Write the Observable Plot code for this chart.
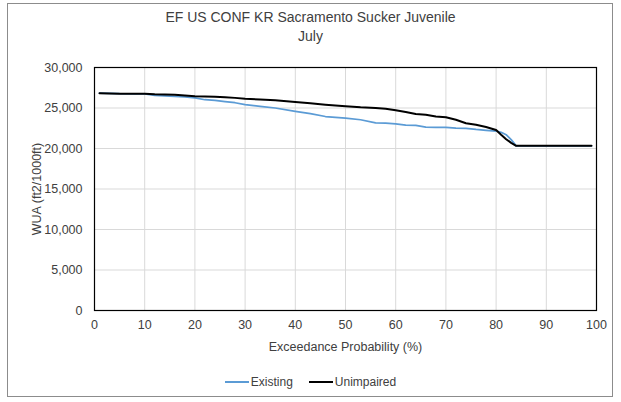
<!DOCTYPE html>
<html>
<head>
<meta charset="utf-8">
<script src="https://cdn.jsdelivr.net/npm/d3@7"></script>
<script src="https://cdn.jsdelivr.net/npm/@observablehq/plot@0.6"></script>
<style>
  html, body { margin: 0; padding: 0; background: #fff; }
  #chart { position: relative; width: 621px; height: 402px; font-family: "Liberation Sans", Arial, sans-serif; color: #404040; }
  #border { position: absolute; left: 7px; top: 3px; width: 606px; height: 394px; border: 1px solid #8c8c8c; box-sizing: border-box; }
  #title { position: absolute; left: 0; width: 621px; top: 8px; text-align: center; font-size: 14px; line-height: 19px; color: #404040; }
  #plot { position: absolute; left: 0; top: 0; }
  #legend { position: absolute; left: 0; width: 621px; top: 372px; text-align: center; font-size: 12px; color: #404040; }
  .item { display: inline-flex; align-items: center; margin: 0 8px; }
  .swatch { display: inline-block; width: 24px; height: 2px; margin-right: 2px; }
</style>
</head>
<body>
<div id="chart">
  <div id="border"></div>
  <div id="plot"></div>
  <div id="title">EF US CONF KR Sacramento Sucker Juvenile<br>July</div>
  <div id="legend"></div>
</div>
<script>
const probability = [1, 3, 5, 8, 10, 12, 14, 16, 18, 20, 22, 24, 26, 28, 30, 33, 36, 40, 43, 46, 50, 53, 56, 58, 60, 62, 64, 66, 68, 70, 72, 74, 76, 78, 80, 81, 82, 83, 84, 86, 90, 95, 99];
const existing = [26830, 26800, 26760, 26750, 26750, 26560, 26500, 26450, 26380, 26250, 26020, 25950, 25800, 25650, 25410, 25200, 25000, 24580, 24300, 23950, 23750, 23550, 23170, 23120, 23050, 22880, 22850, 22650, 22620, 22600, 22520, 22480, 22350, 22250, 22160, 22000, 21700, 21100, 20330, 20330, 20330, 20330, 20330];
const unimpaired = [26830, 26800, 26760, 26750, 26750, 26700, 26680, 26650, 26550, 26450, 26430, 26380, 26340, 26250, 26140, 26050, 25950, 25730, 25580, 25410, 25230, 25090, 25000, 24920, 24720, 24500, 24270, 24170, 23950, 23850, 23550, 23120, 22920, 22650, 22280, 21700, 21150, 20700, 20330, 20330, 20330, 20330, 20330];
const seriesNames = ["Existing", "Unimpaired"];
const seriesColors = ["#5b9bd5", "#000000"];
const xTicks = [0, 10, 20, 30, 40, 50, 60, 70, 80, 90, 100];
const yTicks = [0, 5000, 10000, 15000, 20000, 25000, 30000];

const rows = [];
probability.forEach((p, i) => {
  rows.push({p, v: existing[i], s: seriesNames[0]});
});
probability.forEach((p, i) => {
  rows.push({p, v: unimpaired[i], s: seriesNames[1]});
});

const fmt = d3.format(",");
const chart = Plot.plot({
  width: 621,
  height: 402,
  marginTop: 67,
  marginBottom: 92,
  marginLeft: 94,
  marginRight: 25,
  style: { fontFamily: "'Liberation Sans', Arial, sans-serif", fontSize: "12.5px", color: "#404040", background: "transparent" },
  x: { domain: [0, 100], ticks: xTicks, tickSize: 0, tickPadding: 10, label: "Exceedance Probability (%)", labelAnchor: "center", labelOffset: 40, labelArrow: "none" },
  y: { domain: [0, 30000], ticks: yTicks, tickSize: 0, tickPadding: 12, tickFormat: fmt, label: "WUA (ft2/1000ft)", labelAnchor: "center", labelOffset: 62, labelArrow: "none" },
  color: { domain: seriesNames, range: seriesColors },
  marks: [
    Plot.gridX(xTicks, { stroke: "#d9d9d9", strokeOpacity: 1, strokeWidth: 1 }),
    Plot.gridY(yTicks, { stroke: "#d9d9d9", strokeOpacity: 1, strokeWidth: 1 }),
    Plot.line(rows.filter(d => d.s === seriesNames[0]), { x: "p", y: "v", stroke: "s", strokeWidth: 1.75 }),
    Plot.line(rows.filter(d => d.s === seriesNames[1]), { x: "p", y: "v", stroke: "s", strokeWidth: 2 }),
    Plot.frame({ stroke: "#000", strokeWidth: 1.2 })
  ]
});
document.getElementById("plot").appendChild(chart);

const legend = document.getElementById("legend");
seriesNames.forEach((name, i) => {
  const item = document.createElement("span");
  item.className = "item";
  const sw = document.createElement("span");
  sw.className = "swatch";
  sw.style.background = seriesColors[i];
  item.appendChild(sw);
  item.appendChild(document.createTextNode(name));
  legend.appendChild(item);
});
</script>
</body>
</html>
